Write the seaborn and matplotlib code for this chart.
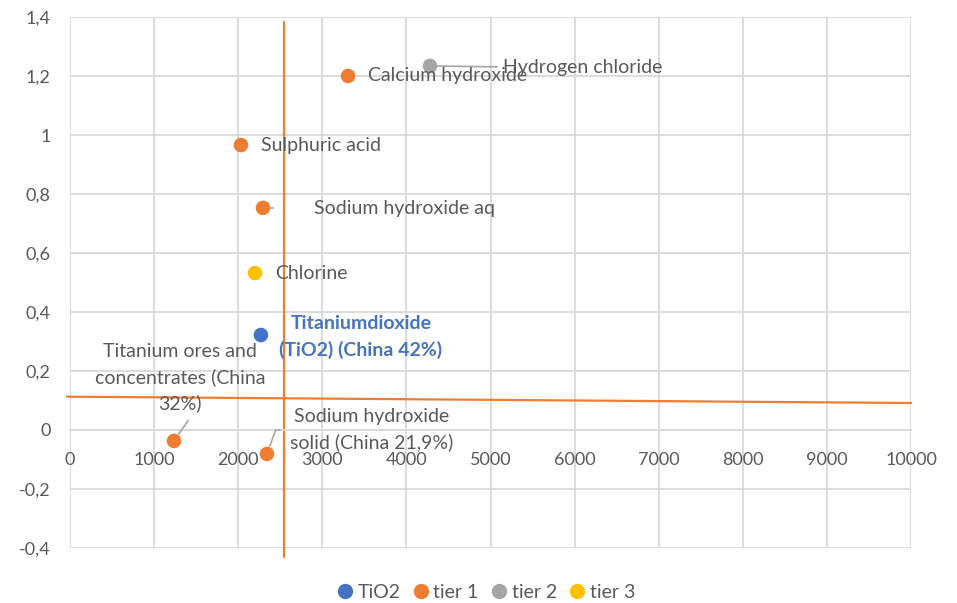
import matplotlib
matplotlib.use("Agg")
import matplotlib.pyplot as plt
import seaborn as sns
import pandas as pd

# ---- data ----
names = ["Titaniumdioxide\n(TiO2) (China 42%)", "Calcium hydroxide", "Hydrogen chloride",
         "Sulphuric acid", "Sodium hydroxide aq", "Chlorine",
         "Titanium ores and\nconcentrates (China\n32%)", "Sodium hydroxide\nsolid (China 21,9%)"]
groups = ["TiO2", "tier 1", "tier 2", "tier 1", "tier 1", "tier 3", "tier 1", "tier 1"]
x_vals = [2270, 3306, 4281, 2033, 2295, 2200, 1237, 2342]
y_vals = [0.322, 1.20, 1.234, 0.966, 0.753, 0.532, -0.037, -0.081]

vline_x = [2541, 2541]
vline_y = [1.383, -0.43]
hline_x = [-36, 10000]
hline_y = [0.113, 0.0915]

x_ticks = [0, 1000, 2000, 3000, 4000, 5000, 6000, 7000, 8000, 9000, 10000]
y_ticks = [-0.4, -0.2, 0, 0.2, 0.4, 0.6, 0.8, 1.0, 1.2, 1.4]
y_ticklabels = ["-0,4", "-0,2", "0", "0,2", "0,4", "0,6", "0,8", "1", "1,2", "1,4"]

palette = {"TiO2": "#4472C4", "tier 1": "#ED7D31", "tier 2": "#A5A5A5", "tier 3": "#FFC000"}
hue_order = ["TiO2", "tier 1", "tier 2", "tier 3"]

df = pd.DataFrame({"name": names, "group": groups, "x": x_vals, "y": y_vals})

# ---- style ----
sns.set_style("white")
plt.rcParams["font.family"] = ["Lato", "DejaVu Sans"]
TXT = "#595959"
FS = 13
LFS = 14

fig = plt.figure(figsize=(9.57, 6.03), dpi=100)
ax = fig.add_axes([70/957, 1-548/603, (911-70)/957, (548-17)/603])

# reference lines
ax.plot(vline_x, vline_y, color="#ED7D31", lw=1.6, clip_on=False, zorder=2)
ax.plot(hline_x, hline_y, color="#ED7D31", lw=1.6, clip_on=False, zorder=2)

sns.scatterplot(data=df, x="x", y="y", hue="group", hue_order=hue_order, palette=palette,
                s=110, edgecolor="none", ax=ax, zorder=3, legend=False)

ax.set_xlim(0, 10000)
ax.set_ylim(-0.4, 1.4)
ax.set_xticks(x_ticks)
ax.set_xticklabels([str(v) for v in x_ticks])
ax.set_yticks(y_ticks)
ax.set_yticklabels(y_ticklabels)
ax.grid(True, color="#d9d9d9", lw=1.3)
ax.set_axisbelow(True)
for s in ["top", "right", "left"]:
    ax.spines[s].set_visible(False)
ax.spines["bottom"].set_position(("data", 0))
ax.spines["bottom"].set_color("#d9d9d9")
ax.spines["bottom"].set_linewidth(1.3)
ax.tick_params(axis="x", length=0, pad=16, labelsize=FS, labelcolor=TXT)
ax.tick_params(axis="y", length=0, pad=14, labelsize=FS, labelcolor=TXT)
ax.set_xlabel("")
ax.set_ylabel("")

# label offsets (pixels), alignment and leader-line style
offsets = [
    (100, -2, "center", True, None),
    (20, 0, "left", False, None),
    (73, -2, "left", False, dict(shrinkA=2, shrinkB=5)),
    (20, 0, "left", False, None),
    (51, -1, "left", False, dict(shrinkA=27, shrinkB=5)),
    (20, 0, "left", False, None),
    (6, 63, "center", False, dict(shrinkA=4, shrinkB=6, relpos=(0.58, 0.0))),
    (105, 24, "center", False, dict(shrinkA=5, shrinkB=6, relpos=(0.0, 0.5),
                                    connectionstyle="angle,angleA=0,angleB=70,rad=0")),
]
for (nm, gx, gy, grp), (dx, dy, ha, bold, arrow) in zip(zip(names, x_vals, y_vals, groups), offsets):
    kw = {}
    if arrow is not None:
        kw["arrowprops"] = dict(arrowstyle="-", color="#A5A5A5", lw=1.2, **arrow)
    ax.annotate(nm, (gx, gy), xytext=(dx, dy), textcoords="offset pixels",
                ha=ha, va="center", multialignment="center",
                fontsize=LFS, color=(palette["TiO2"] if bold else TXT),
                fontweight=("bold" if bold else "normal"), linespacing=1.55,
                zorder=4, **kw)

# legend
from matplotlib.lines import Line2D
handles = [Line2D([], [], marker="o", ls="", color=palette[g], markersize=10) for g in hue_order]
fig.legend(handles, hue_order, loc="center", bbox_to_anchor=(0.507, 1-592/603), ncol=4,
           frameon=False, fontsize=14, labelcolor=TXT, handletextpad=0.15,
           columnspacing=0.55, handlelength=1.0)

fig.savefig("out.png", dpi=100)
